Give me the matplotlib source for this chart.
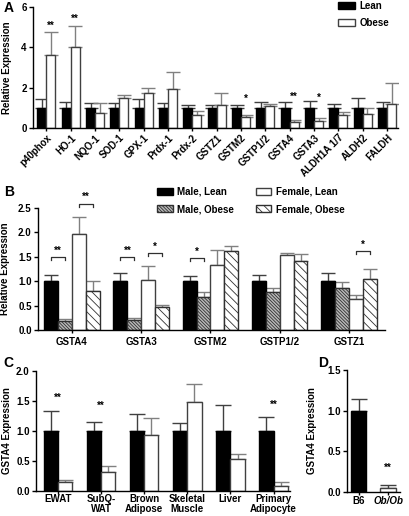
import numpy as np
import matplotlib.pyplot as plt

plt.rcParams['font.family'] = ['Liberation Sans', 'DejaVu Sans']
plt.rcParams['font.weight'] = 'bold'
plt.rcParams['axes.labelweight'] = 'bold'
plt.rcParams['font.size'] = 7
plt.rcParams['axes.linewidth'] = 1.0
plt.rcParams['hatch.linewidth'] = 0.6

# ---- Panel A data ----
genes_a = ['p40phox', 'HO-1', 'NQO-1', 'SOD-1', 'GPX-1', 'Prdx-1', 'Prdx-2', 'GSTZ1',
           'GSTM2', 'GSTP1/2', 'GSTA4', 'GSTA3', 'ALDH1A 1/7', 'ALDH2', 'FALDH']
lean_a = [1.0, 1.0, 1.0, 1.0, 1.0, 1.0, 1.0, 1.0, 1.0, 1.0, 1.0, 1.0, 1.0, 1.0, 1.0]
lean_err_a = [0.43, 0.28, 0.23, 0.23, 0.43, 0.23, 0.13, 0.15, 0.12, 0.28, 0.28, 0.33, 0.20, 0.47, 0.28]
obese_a = [3.63, 4.00, 0.75, 1.50, 1.72, 1.93, 0.65, 1.15, 0.55, 1.08, 0.30, 0.33, 0.62, 0.70, 1.20]
obese_err_a = [1.11, 1.08, 0.48, 0.13, 0.26, 0.83, 0.18, 0.57, 0.10, 0.10, 0.08, 0.17, 0.16, 0.28, 1.02]
sig_a_idx = [0, 1, 8, 10, 11]
sig_a_txt = ['**', '**', '*', '**', '*']
sig_a_y = [4.9, 5.25, 1.3, 1.39, 1.34]

# ---- Panel B data ----
genes_b = ['GSTA4', 'GSTA3', 'GSTM2', 'GSTP1/2', 'GSTZ1']
male_lean = [1.0, 1.0, 1.0, 1.0, 1.0]
male_lean_err = [0.13, 0.17, 0.10, 0.12, 0.16]
male_obese = [0.18, 0.20, 0.67, 0.77, 0.86]
male_obese_err = [0.04, 0.04, 0.11, 0.09, 0.12]
female_lean = [1.96, 1.03, 1.34, 1.54, 0.63]
female_lean_err = [0.36, 0.28, 0.30, 0.03, 0.09]
female_obese = [0.80, 0.47, 1.62, 1.41, 1.04]
female_obese_err = [0.20, 0.04, 0.10, 0.14, 0.20]
# brackets: group, sex pair, label, height
brk_group = [0, 0, 1, 1, 2, 4]
brk_sex = ['male', 'female', 'male', 'female', 'male', 'female']
brk_txt = ['**', '**', '**', '*', '*', '*']
brk_y = [1.49, 2.59, 1.49, 1.58, 1.47, 1.61]

# ---- Panel C data ----
tissues_c = ['EWAT', 'SubQ-\nWAT', 'Brown\nAdipose', 'Skeletal\nMuscle', 'Liver', 'Primary\nAdipocyte']
lean_c = [1.0, 1.0, 1.0, 1.0, 1.0, 1.0]
lean_err_c = [0.33, 0.15, 0.29, 0.14, 0.44, 0.24]
obese_c = [0.15, 0.32, 0.93, 1.49, 0.53, 0.09]
obese_err_c = [0.03, 0.09, 0.28, 0.29, 0.08, 0.06]
sig_c_idx = [0, 1, 5]
sig_c_y = [1.5, 1.37, 1.38]

# ---- Panel D data ----
strains_d = ['B6', 'Ob/Ob']
gsta4_d = [1.0, 0.05]
gsta4_err_d = [0.14, 0.04]
sig_d_y = 0.26

W, H = 409, 516
fig = plt.figure(figsize=(W / 100, H / 100), dpi=100)


def px_axes(left, right, top, bottom):
    return fig.add_axes([left / W, 1 - bottom / H, (right - left) / W, (bottom - top) / H])


def style(ax):
    ax.spines['top'].set_visible(False)
    ax.spines['right'].set_visible(False)
    ax.tick_params(direction='out', length=3, width=1, pad=1.5, labelsize=7)


def upper_err(ax, x, y, e, color, cap=5):
    ax.errorbar(x, y, yerr=[np.zeros(len(e)), e], fmt='none', ecolor=color,
                elinewidth=1, capsize=cap, capthick=1, zorder=1)


# ---------- A ----------
axA = px_axes(33, 398, 7, 128)
style(axA)
xa = np.arange(len(genes_a))
wa = 0.37
upper_err(axA, xa - wa / 2, lean_a, lean_err_a, '#404040')
upper_err(axA, xa + wa / 2, obese_a, obese_err_a, '#808080')
axA.bar(xa - wa / 2, lean_a, wa, color='black', edgecolor='black', lw=1, label='Lean', zorder=2)
axA.bar(xa + wa / 2, obese_a, wa, color='white', edgecolor='#404040', lw=1, label='Obese', zorder=2)
for i, t, y in zip(sig_a_idx, sig_a_txt, sig_a_y):
    axA.text(xa[i] + wa / 2, y, t, ha='center', va='baseline', fontsize=7)
axA.set_xlim(-0.55, 14.45)
axA.set_ylim(0, 6)
axA.set_yticks([0, 2, 4, 6])
axA.set_xticks(xa)
axA.set_xticklabels(genes_a, rotation=45, ha='right', rotation_mode='anchor')
axA.tick_params(axis='x', length=2)
axA.set_ylabel('Relative Expression', fontsize=7)
axA.yaxis.set_label_coords(-0.058, 0.5)
axA.legend(loc='upper left', bbox_to_anchor=(338 / W, 1 - 1 / H), bbox_transform=fig.transFigure,
           frameon=False, fontsize=7, handlelength=1.7, handleheight=0.75, labelspacing=0.75,
           handletextpad=0.5, borderaxespad=0, borderpad=0)

# ---------- B ----------
axB = px_axes(38, 385, 208, 330)
style(axB)
xb = np.arange(len(genes_b))
wb = 0.2
offs = [-1.5 * wb, -0.5 * wb, 0.5 * wb, 1.5 * wb]
upper_err(axB, xb + offs[0], male_lean, male_lean_err, '#404040', cap=5)
upper_err(axB, xb + offs[1], male_obese, male_obese_err, '#808080', cap=5)
upper_err(axB, xb + offs[2], female_lean, female_lean_err, '#808080', cap=5)
upper_err(axB, xb + offs[3], female_obese, female_obese_err, '#808080', cap=5)
axB.bar(xb + offs[0], male_lean, wb, color='black', edgecolor='black', lw=1, label='Male, Lean', zorder=2)
axB.bar(xb + offs[1], male_obese, wb, color='#b8b8b8', edgecolor='#303030', lw=1,
        hatch='\\\\\\\\\\\\\\\\\\\\', label='Male, Obese', zorder=2)
axB.bar(xb + offs[2], female_lean, wb, color='white', edgecolor='#404040', lw=1, label='Female, Lean', zorder=2)
axB.bar(xb + offs[3], female_obese, wb, color='white', edgecolor='#303030', lw=1,
        hatch='\\\\\\\\', label='Female, Obese', zorder=2)
for g, s, t, y in zip(brk_group, brk_sex, brk_txt, brk_y):
    x0, x1 = (xb[g] + offs[0], xb[g] + offs[1]) if s == 'male' else (xb[g] + offs[2], xb[g] + offs[3])
    axB.plot([x0, x0, x1, x1], [y - 0.06, y, y, y - 0.06], color='#303030', lw=0.9, clip_on=False)
    axB.text((x0 + x1) / 2, y + 0.07, t, ha='center', va='baseline', fontsize=7)
axB.set_xlim(-0.49, 4.52)
axB.set_ylim(0, 2.5)
axB.set_yticks([0, 0.5, 1.0, 1.5, 2.0, 2.5])
axB.set_yticklabels(['0.0', '0.5', '1.0', '1.5', '2.0', '2.5'])
axB.set_xticks(xb)
axB.set_xticklabels(genes_b)
axB.tick_params(axis='x', length=2, pad=3)
axB.set_ylabel('Relative Expression', fontsize=7)
axB.yaxis.set_label_coords(-0.081, 0.5)
axB.legend(loc='upper left', bbox_to_anchor=(157 / W, 1 - 187 / H), bbox_transform=fig.transFigure,
           ncol=2, frameon=False, fontsize=7, handlelength=1.6, handleheight=0.7, labelspacing=0.75,
           handletextpad=0.5, columnspacing=2.2, borderaxespad=0, borderpad=0)

# ---------- C ----------
axC = px_axes(36, 290, 371, 491)
style(axC)
xc = np.arange(len(tissues_c))
wc = 0.33
upper_err(axC, xc - wc / 2, lean_c, lean_err_c, '#404040', cap=6)
upper_err(axC, xc + wc / 2, obese_c, obese_err_c, '#808080', cap=6)
axC.bar(xc - wc / 2, lean_c, wc, color='black', edgecolor='black', lw=1, zorder=2)
axC.bar(xc + wc / 2, obese_c, wc, color='white', edgecolor='#404040', lw=1, zorder=2)
for i, y in zip(sig_c_idx, sig_c_y):
    axC.text(xc[i], y, '**', ha='center', va='baseline', fontsize=7)
axC.set_xlim(-0.51, 5.38)
axC.set_ylim(0, 2.0)
axC.set_yticks([0, 0.5, 1.0, 1.5, 2.0])
axC.set_yticklabels(['0.0', '0.5', '1.0', '1.5', '2.0'])
axC.set_xticks(xc)
axC.set_xticklabels(tissues_c, linespacing=0.95)
axC.tick_params(axis='x', length=2, pad=0.5)
axC.set_ylabel('GSTA4 Expression', fontsize=7)
axC.yaxis.set_label_coords(-0.094, 0.5)

# ---------- D ----------
axD = px_axes(347, 400, 370, 492)
style(axD)
xd = np.arange(len(strains_d))
wd = 0.52
upper_err(axD, xd, gsta4_d, gsta4_err_d, '#404040', cap=6)
axD.bar(xd[0], gsta4_d[0], wd, color='black', edgecolor='black', lw=1, zorder=2)
axD.bar(xd[1], gsta4_d[1], wd, color='white', edgecolor='#404040', lw=1, zorder=2)
axD.text(xd[1], sig_d_y, '**', ha='center', va='baseline', fontsize=7)
axD.set_xlim(-0.39, 1.4)
axD.set_ylim(0, 1.5)
axD.set_yticks([0, 0.5, 1.0, 1.5])
axD.set_yticklabels(['0.0', '0.5', '1.0', '1.5'])
axD.set_xticks(xd)
axD.set_xticklabels(strains_d)
axD.get_xticklabels()[1].set_style('italic')
axD.tick_params(axis='x', length=2, pad=1)
axD.set_ylabel('GSTA4 Expression', fontsize=7)
axD.yaxis.set_label_coords(-0.57, 0.5)

# panel letters
for lab, x, y in [('A', 9, 8), ('B', 9, 192), ('C', 8, 363), ('D', 323, 363)]:
    fig.text(x / W, 1 - y / H, lab, fontsize=10, fontweight='bold', ha='center', va='center')

fig.savefig('out.png', dpi=100)
